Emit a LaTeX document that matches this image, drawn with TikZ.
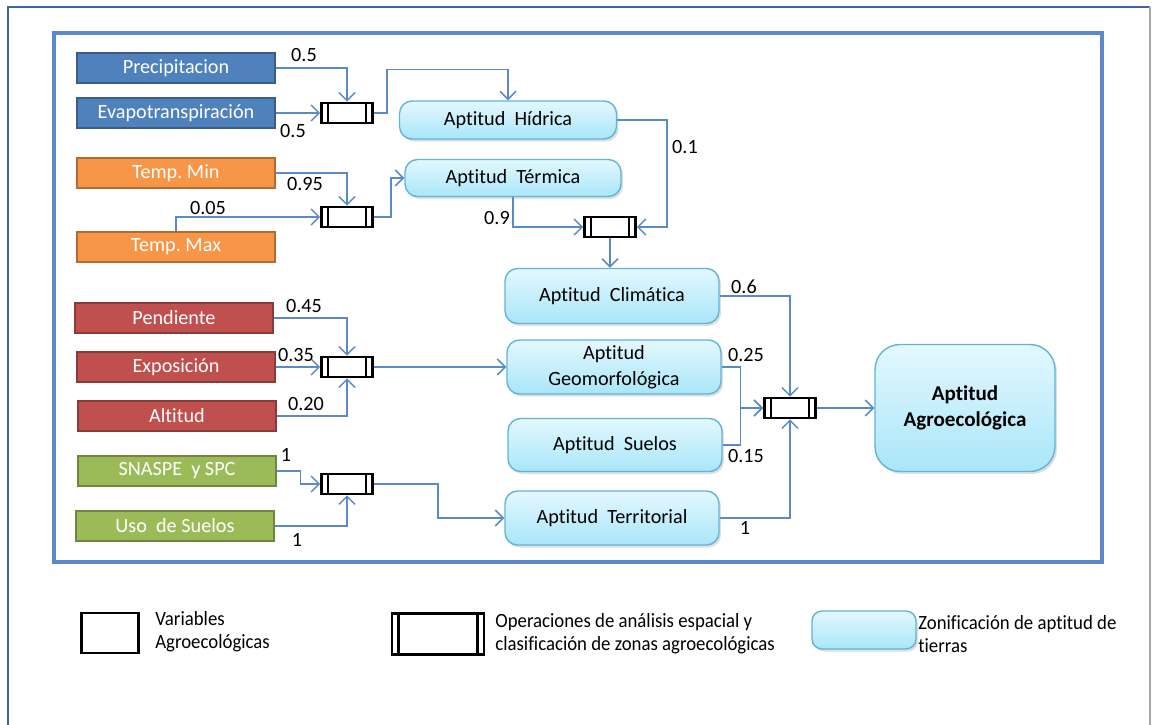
\documentclass[tikz,border=0pt]{standalone}
\usepackage{fontspec}
\setmainfont{Carlito}[Ligatures=NoCommon]
\newfontfamily\legfont[FakeStretch=0.93, Ligatures=NoCommon]{Carlito}
\usetikzlibrary{positioning,arrows.meta,calc,shadows}
\definecolor{VarBlue}{HTML}{4F81BD}
\definecolor{VarOrange}{HTML}{F79646}
\definecolor{VarRed}{HTML}{C0504D}
\definecolor{VarGreen}{HTML}{9BBB59}
\definecolor{AptTop}{HTML}{E3F8FE}
\definecolor{AptBot}{HTML}{A9E6F9}
\definecolor{AptEdge}{HTML}{62B4D6}
\definecolor{LinkBlue}{HTML}{5B8BC7}
\definecolor{FrameBlue}{HTML}{5A8ACB}
\definecolor{OuterBlue}{HTML}{3F64A0}

\begin{document}
\begin{tikzpicture}[x=0.02cm, y=-0.02cm,
  var/.style={draw=#1!72!black, fill=#1, text=white, line width=0.8pt, minimum width=3.96cm, minimum height=6mm, inner sep=0pt, font=\fontsize{11.5}{13}\selectfont},
  apt/.style={draw=AptEdge, line width=0.8pt, rounded corners=2.5mm, top color=AptTop, bottom color=AptBot, align=center, inner sep=0pt, font=\fontsize{11.5}{15}\selectfont, drop shadow={opacity=0.25, shadow xshift=0.4mm, shadow yshift=-0.5mm}},
  op/.style={draw=black, fill=white, line width=1.5pt, minimum width=1.02cm, minimum height=4mm, inner sep=0pt,
    path picture={\draw[line width=1.3pt] ([xshift=1.3mm]path picture bounding box.north west) -- ([xshift=1.3mm]path picture bounding box.south west)
      ([xshift=-1.3mm]path picture bounding box.north east) -- ([xshift=-1.3mm]path picture bounding box.south east);}},
  lbl/.style={inner sep=0pt, font=\fontsize{11.5}{13}\selectfont},
  leg/.style={inner sep=0pt, align=left, anchor=west, font=\legfont\fontsize{11.5}{13}\selectfont},
  arr/.style={draw=LinkBlue, line width=0.85pt, -{Straight Barb[length=1.6mm, width=3.2mm]}}]
\useasboundingbox (0,0) rectangle (1152,724);
% frames
\draw[OuterBlue, line width=1.2pt] (8,730) -- (8,7) -- (1150,7);
\draw[black!35, line width=0.6pt] (1150,7) -- (1150,730);
\draw[FrameBlue, line width=1.8pt] (54,33) rectangle (1102,562);

% variables
\node[var=VarBlue]   (prec)   at (176,68)  {Precipitacion};
\node[var=VarBlue]   (evap)   at (176,113) {Evapotranspiración};
\node[var=VarOrange] (tmin)   at (176,173) {Temp.\ Min};
\node[var=VarOrange] (tmax)   at (176,247) {Temp.\ Max};
\node[var=VarRed]    (pend)   at (174,318) {Pendiente};
\node[var=VarRed]    (expo)   at (176,367) {Exposición};
\node[var=VarRed]    (alt)    at (177,416) {Altitud};
\node[var=VarGreen]  (snaspe) at (177,471) {SNASPE\ \ y SPC};
\node[var=VarGreen]  (uso)    at (175,526) {Uso\ \ de Suelos};

% operations
\node[op] (ophid)  at (347,113) {};
\node[op] (opterm) at (347,217) {};
\node[op] (opgeo)  at (347,367) {};
\node[op] (opterr) at (347,484) {};
\node[op] (opclim) at (610,227) {};
\node[op] (opagro) at (790,408) {};

% aptitudes
\node[apt, minimum width=4.34cm, minimum height=7.6mm]  (hid)  at (508,120) {Aptitud\ \ Hídrica};
\node[apt, minimum width=4.32cm, minimum height=7.4mm]  (term) at (513,178) {Aptitud\ \ Térmica};
\node[apt, minimum width=4.28cm, minimum height=11mm]   (clim) at (612,296) {Aptitud\ \ Climática};
\node[apt, minimum width=4.28cm, minimum height=10.8mm] (geo)  at (614,367) {Aptitud\\Geomorfológica};
\node[apt, minimum width=4.28cm, minimum height=10.6mm] (suel) at (615,445) {Aptitud\ \ Suelos};
\node[apt, minimum width=4.28cm, minimum height=10.8mm] (terr) at (612,518) {Aptitud\ \ Territorial};
\node[apt, minimum width=3.6cm, minimum height=2.54cm, rounded corners=5mm, font=\bfseries\fontsize{12}{15}\selectfont] (agro) at (965,408) {Aptitud\\Agroecológica};

% connectors
\draw[arr] (prec.east) -| (ophid.north);
\draw[arr] (evap.east) -- (ophid.west);
\draw[arr] (ophid.east) -- ++(13,0) |- ([yshift=6.2mm]hid.north) -- (hid.north);
\draw[arr] (tmin.east) -| (opterm.north);
\draw[arr] (tmax.north) |- (opterm.west);
\draw[arr] (opterm.east) -- ++(17,0) |- (term.west);
\draw[arr] (hid.east) -- ++(50,0) |- (opclim.east);
\draw[arr] (term.south) |- (opclim.west);
\draw[arr] (opclim.south) -- (opclim.south |- clim.north);
\draw[arr] (pend.east) -| (opgeo.north);
\draw[arr] (expo.east) -- (opgeo.west);
\draw[arr] (alt.east) -| (opgeo.south);
\draw[arr] (opgeo.east) -- (geo.west);
\draw[arr] (snaspe.east) -- ++(24,0) |- (opterr.west);
\draw[arr] (uso.east) -| (opterr.south);
\draw[arr] (opterr.east) -- ++(64,0) |- (terr.west);
\draw[arr] (clim.east) -| (opagro.north);
\draw[arr] (geo.east) -- ++(19,0) |- (opagro.west);
\draw[arr] (suel.east) -- ++(18,0) |- (opagro.west);
\draw[arr] (terr.east) -| (opagro.south);
\draw[arr] (opagro.east) -- (agro.west);

% weights
\node[lbl] (wprec) at (304,55)  {0.5};
\node[lbl] (wevap) at (293,131) {0.5};
\node[lbl] (wtmin) at (305,184) {0.95};
\node[lbl] (wtmax) at (208,208) {0.05};
\node[lbl] (whid)  at (685,147) {0.1};
\node[lbl] (wterm) at (497,218) {0.9};
\node[lbl] (wpend) at (304,306) {0.45};
\node[lbl] (wexpo) at (296,355) {0.35};
\node[lbl] (walt)  at (306,404) {0.20};
\node[lbl] (wsnas) at (286,455) {1};
\node[lbl] (wuso)  at (297,540) {1};
\node[lbl] (wclim) at (744,287) {0.6};
\node[lbl] (wgeo)  at (746,355) {0.25};
\node[lbl] (wsuel) at (746,456) {0.15};
\node[lbl] (wterr) at (745,528) {1};

% legend
\node[draw=black, line width=1.5pt, minimum width=1.14cm, minimum height=8mm] (legvar) at (110,633) {};
\node[leg] (legvartxt) at (155,632) {Variables\\Agroecológicas};
\node[op, minimum width=1.84cm, minimum height=8.2mm] (legop) at (438,634) {};
\node[leg] (legoptxt) at (495,634) {Operaciones de análisis espacial y\\clasificación de zonas agroecológicas};
\node[apt, minimum width=2.08cm, minimum height=7.6mm, rounded corners=2mm] (legapt) at (864,630) {};
\node[leg] (legapttxt) at (918,634) {Zonificación de aptitud de\\tierras};
\end{tikzpicture}
\end{document}
